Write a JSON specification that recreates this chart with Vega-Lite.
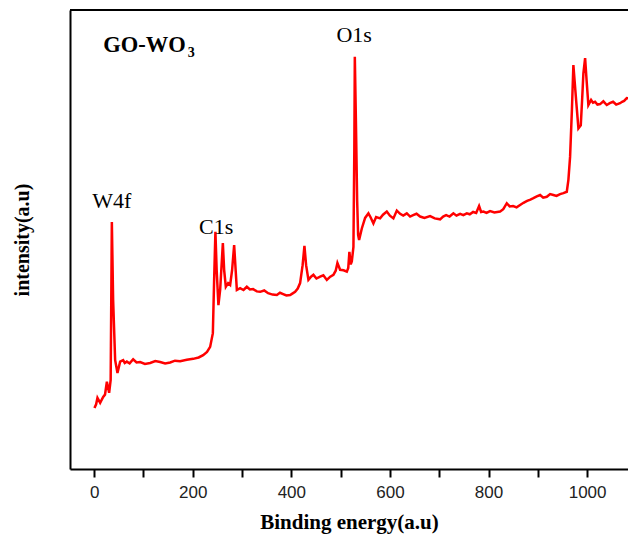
{
  "$schema": "https://vega.github.io/schema/vega-lite/v6.json",
  "width": 558,
  "height": 459,
  "autosize": "none",
  "padding": {"left": 70, "top": 10, "right": 0, "bottom": 73},
  "background": "white",
  "config": {"view": {"stroke": null}},
  "datasets": {
    "spectrum": [
      {"energy": 0.6, "intensity": 13.3}, {"energy": 4, "intensity": 14.1}, {"energy": 6.7, "intensity": 15.5},
      {"energy": 12.2, "intensity": 14.4}, {"energy": 18.3, "intensity": 15.7}, {"energy": 22, "intensity": 16.2},
      {"energy": 25.8, "intensity": 19.0}, {"energy": 30.4, "intensity": 16.6}, {"energy": 33.5, "intensity": 19.4},
      {"energy": 35.9, "intensity": 53.8}, {"energy": 38.5, "intensity": 36.8}, {"energy": 42.6, "intensity": 23.7},
      {"energy": 47.3, "intensity": 20.9}, {"energy": 52.7, "intensity": 23.4}, {"energy": 58.8, "intensity": 23.7},
      {"energy": 62, "intensity": 23.1}, {"energy": 66.3, "intensity": 23.4}, {"energy": 72, "intensity": 23.0},
      {"energy": 79.1, "intensity": 23.9}, {"energy": 86, "intensity": 23.2}, {"energy": 93.3, "intensity": 23.3},
      {"energy": 103, "intensity": 22.9}, {"energy": 113.6, "intensity": 23.1}, {"energy": 124, "intensity": 23.5},
      {"energy": 133.9, "intensity": 23.3}, {"energy": 144, "intensity": 23.0}, {"energy": 154.2, "intensity": 23.2},
      {"energy": 164, "intensity": 23.6}, {"energy": 174.4, "intensity": 23.5}, {"energy": 188, "intensity": 23.8},
      {"energy": 200.8, "intensity": 24.0}, {"energy": 212, "intensity": 24.3}, {"energy": 221.1, "intensity": 24.8},
      {"energy": 229, "intensity": 25.5}, {"energy": 235.3, "intensity": 26.6}, {"energy": 240.8, "intensity": 29.6},
      {"energy": 243.4, "intensity": 41.2}, {"energy": 246.0, "intensity": 51.7}, {"energy": 248.5, "intensity": 43.4},
      {"energy": 252.1, "intensity": 35.7}, {"energy": 255.6, "intensity": 39.0}, {"energy": 261.1, "intensity": 49.2},
      {"energy": 263.7, "intensity": 43.4}, {"energy": 267.1, "intensity": 39.7}, {"energy": 271.8, "intensity": 40.5},
      {"energy": 275.9, "intensity": 40.1}, {"energy": 279.9, "intensity": 43.4}, {"energy": 284.0, "intensity": 48.8},
      {"energy": 287.0, "intensity": 43.4}, {"energy": 289.5, "intensity": 39.0}, {"energy": 296.1, "intensity": 39.4},
      {"energy": 303, "intensity": 39.0}, {"energy": 309.7, "intensity": 39.7}, {"energy": 316, "intensity": 39.1},
      {"energy": 322.5, "intensity": 39.2}, {"energy": 330, "intensity": 38.7}, {"energy": 336.7, "intensity": 38.6},
      {"energy": 345, "intensity": 38.9}, {"energy": 352.9, "intensity": 38.3}, {"energy": 362, "intensity": 38.0},
      {"energy": 370.6, "intensity": 37.9}, {"energy": 377, "intensity": 38.4}, {"energy": 383.4, "intensity": 38.1},
      {"energy": 390, "intensity": 37.8}, {"energy": 397.6, "intensity": 37.9}, {"energy": 402, "intensity": 38.2},
      {"energy": 407.7, "intensity": 38.6}, {"energy": 413, "intensity": 39.3}, {"energy": 417.8, "intensity": 40.5},
      {"energy": 422.9, "intensity": 44.4}, {"energy": 426.6, "intensity": 48.6}, {"energy": 430.0, "intensity": 44.4},
      {"energy": 434.7, "intensity": 41.2}, {"energy": 440, "intensity": 41.9}, {"energy": 444.8, "intensity": 42.3},
      {"energy": 451, "intensity": 41.5}, {"energy": 458.4, "intensity": 41.9}, {"energy": 465, "intensity": 42.2},
      {"energy": 472.0, "intensity": 41.2}, {"energy": 479, "intensity": 41.9}, {"energy": 485.4, "intensity": 42.3},
      {"energy": 490, "intensity": 43.2}, {"energy": 493.5, "intensity": 44.9}, {"energy": 499.0, "intensity": 43.4},
      {"energy": 506, "intensity": 43.3}, {"energy": 512.6, "intensity": 43.0}, {"energy": 515.5, "intensity": 43.8},
      {"energy": 517.8, "intensity": 47.3}, {"energy": 520.5, "intensity": 44.6}, {"energy": 522.7, "intensity": 45.2},
      {"energy": 526.0, "intensity": 48.4}, {"energy": 527.8, "intensity": 69.5}, {"energy": 528.8, "intensity": 89.8},
      {"energy": 531.0, "intensity": 76.0}, {"energy": 533.5, "intensity": 58.6}, {"energy": 535.5, "intensity": 51.0},
      {"energy": 537.5, "intensity": 49.9}, {"energy": 543.0, "intensity": 52.4}, {"energy": 549.7, "intensity": 54.7},
      {"energy": 556.4, "intensity": 55.7}, {"energy": 561, "intensity": 54.8}, {"energy": 566.5, "intensity": 53.5},
      {"energy": 572.0, "intensity": 54.9}, {"energy": 580.1, "intensity": 54.6}, {"energy": 586, "intensity": 55.4},
      {"energy": 593.7, "intensity": 56.1}, {"energy": 600, "intensity": 55.2}, {"energy": 607.1, "intensity": 54.6},
      {"energy": 614.0, "intensity": 56.3}, {"energy": 620.7, "intensity": 55.6}, {"energy": 627, "intensity": 55.2},
      {"energy": 634.3, "intensity": 55.7}, {"energy": 641, "intensity": 55.0}, {"energy": 647.1, "intensity": 55.3},
      {"energy": 654, "intensity": 55.6}, {"energy": 661.3, "intensity": 55.0}, {"energy": 670, "intensity": 54.7},
      {"energy": 681.5, "intensity": 55.1}, {"energy": 691, "intensity": 54.6}, {"energy": 701.8, "intensity": 54.4},
      {"energy": 708, "intensity": 55.0}, {"energy": 714.0, "intensity": 55.3}, {"energy": 721, "intensity": 55.0},
      {"energy": 728.8, "intensity": 55.7}, {"energy": 735, "intensity": 55.2}, {"energy": 742.4, "intensity": 55.6},
      {"energy": 749, "intensity": 55.3}, {"energy": 756.0, "intensity": 55.7}, {"energy": 762, "intensity": 55.5},
      {"energy": 768.8, "intensity": 56.0}, {"energy": 775, "intensity": 55.8}, {"energy": 780.9, "intensity": 57.3},
      {"energy": 785, "intensity": 56.0}, {"energy": 789.7, "intensity": 56.1}, {"energy": 796, "intensity": 55.8},
      {"energy": 803.2, "intensity": 56.2}, {"energy": 812, "intensity": 55.9}, {"energy": 823.5, "intensity": 56.1},
      {"energy": 830, "intensity": 56.6}, {"energy": 837.1, "intensity": 57.9}, {"energy": 843, "intensity": 57.2},
      {"energy": 849.9, "intensity": 57.3}, {"energy": 857, "intensity": 57.0}, {"energy": 864.1, "intensity": 57.5},
      {"energy": 871, "intensity": 58.0}, {"energy": 878.3, "intensity": 58.4}, {"energy": 885, "intensity": 58.7},
      {"energy": 891.1, "intensity": 59.0}, {"energy": 898, "intensity": 59.4}, {"energy": 904.7, "intensity": 59.7},
      {"energy": 911, "intensity": 59.1}, {"energy": 918.3, "intensity": 59.3}, {"energy": 925, "intensity": 59.9},
      {"energy": 931.6, "intensity": 59.7}, {"energy": 938, "intensity": 59.5}, {"energy": 945.2, "intensity": 59.9},
      {"energy": 952, "intensity": 60.1}, {"energy": 958.8, "intensity": 60.4}, {"energy": 962.1, "intensity": 63.0},
      {"energy": 965.5, "intensity": 68.0}, {"energy": 969.2, "intensity": 78.2}, {"energy": 972.2, "intensity": 88.0},
      {"energy": 974.6, "intensity": 84.7}, {"energy": 977.7, "intensity": 80.4}, {"energy": 982.4, "intensity": 74.2},
      {"energy": 987.2, "intensity": 74.9}, {"energy": 989.9, "intensity": 80.4}, {"energy": 992.5, "intensity": 86.2},
      {"energy": 996.0, "intensity": 89.5}, {"energy": 999.0, "intensity": 84.7}, {"energy": 1002.6, "intensity": 79.3},
      {"energy": 1008.1, "intensity": 80.4}, {"energy": 1012, "intensity": 79.8}, {"energy": 1016.2, "intensity": 80.0},
      {"energy": 1021, "intensity": 79.4}, {"energy": 1026.4, "intensity": 79.5}, {"energy": 1033, "intensity": 80.1},
      {"energy": 1039.9, "intensity": 79.3}, {"energy": 1046, "intensity": 79.7}, {"energy": 1052.7, "intensity": 80.0},
      {"energy": 1059, "intensity": 79.4}, {"energy": 1066.9, "intensity": 79.7}, {"energy": 1071, "intensity": 80.0},
      {"energy": 1075.1, "intensity": 80.2}, {"energy": 1080.5, "intensity": 80.8}, {"energy": 1091.3, "intensity": 80.6}
    ],
    "peaks": [
      {"energy": 35.9, "intensity": 56.9, "label": "W4f"},
      {"energy": 247.5, "intensity": 51.1, "label": "C1s"},
      {"energy": 527.4, "intensity": 93.0, "label": "O1s"}
    ],
    "sample": [{"energy": 18.3, "intensity": 90.8, "label": "GO-WO"}],
    "subscript": [{"energy": 190.0, "intensity": 89.7, "label": "3"}],
    "frame": [{"energy": -49, "energy2": 1083, "intensity": 100}]
  },
  "layer": [
    {
      "data": {"name": "spectrum"},
      "mark": {"type": "line", "color": "#ff0000", "strokeWidth": 2.5, "clip": true},
      "encoding": {
        "x": {
          "field": "energy", "type": "quantitative",
          "scale": {"domain": [-49, 1083], "nice": false, "zero": false},
          "axis": {
            "title": "Binding energy(a.u)",
            "titleFont": "Liberation Serif", "titleFontWeight": "bold", "titleFontSize": 21, "titleColor": "black",
            "titlePadding": 11,
            "values": [0, 100, 200, 300, 400, 500, 600, 700, 800, 900, 1000],
            "labelExpr": "datum.value % 200 === 0 ? datum.label : ''",
            "format": "d",
            "labelFont": "Liberation Sans", "labelFontSize": 17, "labelColor": "#222222",
            "labelPadding": 7,
            "labelOverlap": false,
            "grid": false,
            "domainColor": "black", "domainWidth": 2,
            "tickColor": "black", "tickWidth": 2, "tickSize": 8,
            "encode": {"ticks": {"update": {"y2": {"signal": "datum.value % 200 === 0 ? 8 : 5"}}}}
          }
        },
        "y": {
          "field": "intensity", "type": "quantitative",
          "scale": {"domain": [0, 100], "nice": false},
          "axis": {
            "title": "intensity(a.u)",
            "titleFont": "Liberation Serif", "titleFontWeight": "bold", "titleFontSize": 20, "titleColor": "black",
            "titlePadding": 38,
            "labels": false, "ticks": false, "grid": false,
            "domainColor": "black", "domainWidth": 2
          }
        }
      }
    },
    {
      "data": {"name": "frame"},
      "mark": {"type": "rule", "color": "black", "strokeWidth": 2},
      "encoding": {
        "x": {"field": "energy", "type": "quantitative"},
        "x2": {"field": "energy2"},
        "y": {"field": "intensity", "type": "quantitative"}
      }
    },
    {
      "data": {"name": "peaks"},
      "mark": {"type": "text", "font": "Liberation Serif", "fontSize": 22, "align": "center", "baseline": "alphabetic", "color": "black"},
      "encoding": {
        "x": {"field": "energy", "type": "quantitative"},
        "y": {"field": "intensity", "type": "quantitative"},
        "text": {"field": "label"}
      }
    },
    {
      "data": {"name": "sample"},
      "mark": {"type": "text", "font": "Liberation Serif", "fontSize": 22.5, "fontWeight": "bold", "align": "left", "baseline": "alphabetic", "color": "black"},
      "encoding": {
        "x": {"field": "energy", "type": "quantitative"},
        "y": {"field": "intensity", "type": "quantitative"},
        "text": {"field": "label"}
      }
    },
    {
      "data": {"name": "subscript"},
      "mark": {"type": "text", "font": "Liberation Serif", "fontSize": 14, "fontWeight": "bold", "align": "left", "baseline": "alphabetic", "color": "black"},
      "encoding": {
        "x": {"field": "energy", "type": "quantitative"},
        "y": {"field": "intensity", "type": "quantitative"},
        "text": {"field": "label"}
      }
    }
  ]
}
